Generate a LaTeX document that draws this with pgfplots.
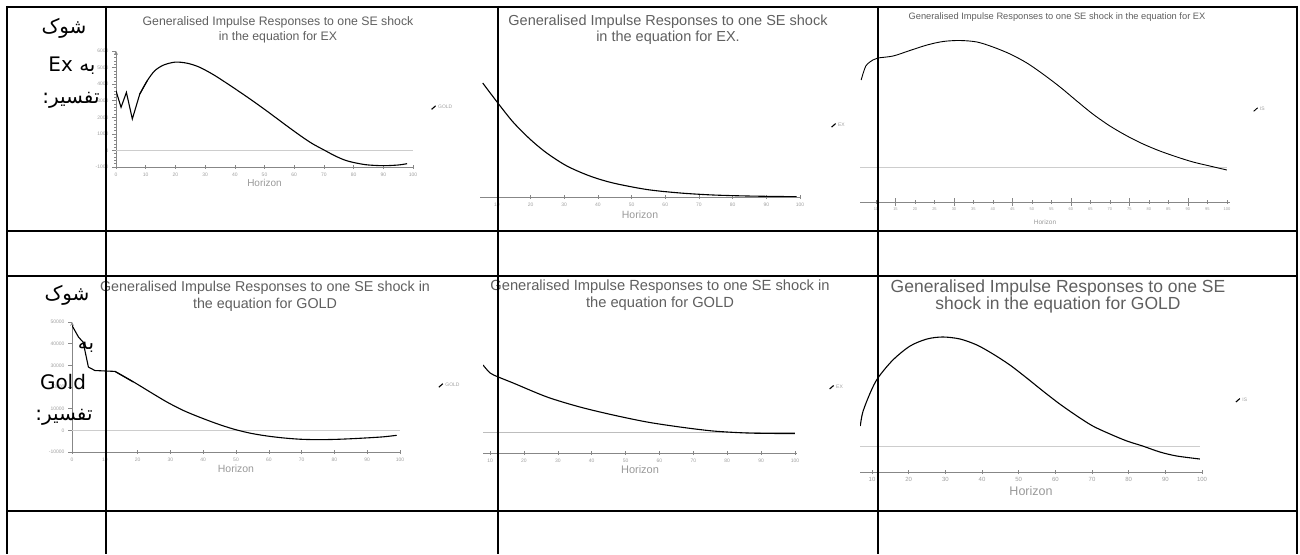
\documentclass[border=0pt]{standalone}
\usepackage{pgfplots}
\pgfplotsset{compat=1.18}
\usepackage{fontspec}
\setmainfont{Liberation Sans}
\newfontfamily\fa[Script=Arabic]{DejaVu Sans}
\TeXXeTstate=1
\definecolor{irf}{RGB}{40,40,95}
\definecolor{axc}{RGB}{135,135,135}
\definecolor{tl}{RGB}{95,95,95}
\definecolor{zl}{RGB}{205,205,205}
\pgfplotsset{irf/.style={
  scale only axis, anchor=south west,
  axis x line=bottom,
  axis line style={axc,-,line width=0.7pt},
  tick style={axc,line width=0.5pt},
  xtick align=center, major tick length=4pt,
  tick label style={text=gray!75,font=\fontsize{5}{6}\selectfont},
  /pgf/number format/assume math mode=true,
  /pgf/number format/fixed, /pgf/number format/1000 sep={},
  scaled ticks=false,
  xlabel={Horizon}, xlabel style={text=gray!80},
  legend style={draw=none,fill=none,text=gray!75,font=\fontsize{5}{6}\selectfont,anchor=west},
  legend image code/.code={\draw[##1] (0pt,-1.5pt) -- (4pt,2pt);},
}}
\begin{document}
\begin{tikzpicture}[x=1pt,y=1pt]
\path[use as bounding box] (0,0) rectangle (1300,554);

% ---------- chart 1
\begin{axis}[irf, at={(116pt,387pt)}, width=297pt, height=116pt,
  xmin=0, xmax=100, ymin=-1000, ymax=6000,
  axis y line=left, ytick={-1000,0,...,6000}, minor y tick num=4,
  ytick align=outside, minor tick length=2pt,
  xtick={0,10,...,100},
  xlabel style={font=\fontsize{10}{12}\selectfont, yshift=4pt},
  legend style={at={(1.05,0.51)}}]
\addplot[zl, line width=0.6pt, forget plot] coordinates {(0,0)(100,0)};
\addplot[irf, line width=1.1pt, forget plot] coordinates {(0,3600)(1.7,2600)(3.5,3500)(5.5,1900)(8,3400)(10.5,4200)};
\addplot[irf, line width=1.1pt, smooth] coordinates {(8,3400)(10.5,4200)(13,4800)(16,5150)(20,5330)(24,5260)(28,5030)(33,4550)(39,3850)(45,3120)(51,2350)(57,1550)(62,900)(66,420)(70,30)(74,-350)(78,-640)(84,-860)(90,-920)(95,-880)(98,-800)};
\addlegendentry{GOLD}
\end{axis}
\node[font=\fontsize{12.3}{15}\selectfont, text=tl, align=center] at (278pt,524pt) {Generalised Impulse Responses to one SE shock\\in the equation for EX};

% ---------- chart 2
\begin{axis}[irf, at={(480pt,357pt)}, width=320pt, height=140pt,
  axis y line=none,
  xmin=5, xmax=100, ymin=0, ymax=1.4, ytick=\empty,
  xtick={10,20,...,100},
  xlabel style={font=\fontsize{10.5}{12}\selectfont, yshift=2pt},
  legend style={at={(1.087,0.51)}}]
\addplot[irf, line width=1.1pt, smooth] coordinates {(5.8,1.14)(10.3,0.94)(14.8,0.75)(19.8,0.58)(24.8,0.44)(30.8,0.31)(37.6,0.21)(44.5,0.14)(54.5,0.075)(64.4,0.04)(74.2,0.02)(84.3,0.01)(94,0.005)(99,0.003)};
\addlegendentry{EX}
\end{axis}
\node[font=\fontsize{14.5}{16}\selectfont, text=tl, align=center] at (668pt,524pt) {Generalised Impulse Responses to one SE shock\\in the equation for EX.};

% ---------- chart 3
\begin{axis}[irf, at={(860pt,352pt)}, width=370pt, height=192pt,
  axis y line=none,
  xmin=5.9, xmax=100.8, ymin=-0.35, ymax=1.57, ytick=\empty,
  xtick={10,15,...,100},
  extra x ticks={15,30,45,60,75,90}, extra x tick labels={},
  extra x tick style={major tick length=8pt},
  tick label style={font=\fontsize{4}{5}\selectfont},
  xlabel style={font=\fontsize{6.5}{8}\selectfont, yshift=3pt},
  legend style={at={(1.054,0.48)}}]
\addplot[zl, line width=0.8pt, forget plot] coordinates {(5.9,0)(100,0)};
\addplot[irf, line width=0.9pt, smooth] coordinates {(6.2,0.87)(7.4,1.01)(9.2,1.07)(10.5,1.09)(14.4,1.11)(18.7,1.165)(23.1,1.22)(27.2,1.255)(31.5,1.265)(35.9,1.25)(40,1.20)(44.4,1.13)(48.7,1.04)(52.8,0.93)(57.2,0.80)(61.5,0.66)(65.6,0.53)(70,0.41)(74.4,0.31)(78.5,0.23)(82.8,0.16)(87.2,0.10)(91.3,0.05)(95.6,0.01)(100,-0.03)};
\addlegendentry{IS}
\end{axis}
\node[font=\fontsize{9.3}{11}\selectfont, text=tl] at (1057pt,537pt) {Generalised Impulse Responses to one SE shock in the equation for EX};

% ---------- chart 4
\begin{axis}[irf, at={(72pt,102pt)}, width=328pt, height=130pt,
  xmin=0, xmax=100, ymin=-10000, ymax=50000,
  axis y line=left, ytick={-10000,0,...,50000}, ytick align=outside,
  xtick={0,10,...,100},
  xlabel style={font=\fontsize{10.5}{12}\selectfont, yshift=3pt},
  legend style={at={(1.107,0.51)}}]
\addplot[zl, line width=0.6pt, forget plot] coordinates {(0,0)(100,0)};
\addplot[irf, line width=1.1pt, forget plot] coordinates {(0,48400)(2,43000)(3.4,40700)(5,29200)(7,27600)(13.1,27200)(18.7,22300)};
\addplot[irf, line width=1.1pt, smooth] coordinates {(13.1,27200)(18.7,22400)(23.8,17700)(28.9,13100)(33.9,9200)(39,6000)(44.1,3100)(49.2,600)(54.3,-1300)(59.4,-2600)(64.4,-3500)(69.5,-4100)(74.6,-4300)(79.7,-4200)(84.8,-3900)(89.8,-3500)(94.9,-3000)(99,-2300)};
\addlegendentry{GOLD}
\end{axis}
\node[font=\fontsize{14.3}{17}\selectfont, text=tl, align=center] at (265pt,258pt) {Generalised Impulse Responses to one SE shock in\\the equation for GOLD};

% ---------- chart 5
\begin{axis}[irf, at={(483pt,101pt)}, width=314pt, height=113pt,
  axis y line=none,
  xmin=7.9, xmax=100.6, ymin=-0.21, ymax=0.92, ytick=\empty,
  xtick={10,20,...,100},
  xlabel style={font=\fontsize{11}{12}\selectfont, yshift=3pt},
  legend style={at={(1.092,0.58)}}]
\addplot[zl!80!gray, line width=0.6pt, forget plot] coordinates {(7.9,0)(100,0)};
\addplot[irf, line width=1.1pt, smooth] coordinates {(7.9,0.67)(10,0.59)(12.4,0.55)(16.8,0.49)(26.8,0.35)(36.5,0.25)(46.3,0.17)(56.3,0.10)(66,0.05)(75.8,0.01)(85.8,-0.01)(95.5,-0.015)(100,-0.015)};
\addlegendentry{EX}
\end{axis}
\node[font=\fontsize{14.7}{17}\selectfont, text=tl, align=center] at (660pt,259pt) {Generalised Impulse Responses to one SE shock in\\the equation for GOLD};

% ---------- chart 6
\begin{axis}[irf, at={(860pt,82pt)}, width=342pt, height=152pt,
  axis y line=none,
  xmin=6.73, xmax=100, ymin=-0.26, ymax=1.26, ytick=\empty,
  xtick={10,20,...,100},
  tick label style={font=\fontsize{6}{7}\selectfont},
  xlabel style={font=\fontsize{12.5}{14}\selectfont, yshift=2pt},
  legend style={at={(1.088,0.47)}}]
\addplot[zl, line width=0.6pt, forget plot] coordinates {(6.73,0)(99.4,0)};
\addplot[irf, line width=1.1pt, smooth] coordinates {(6.8,0.20)(7.5,0.34)(9.5,0.53)(11.6,0.68)(15.7,0.86)(20.4,1.0)(25,1.07)(29.3,1.09)(34,1.07)(38.6,1.01)(43,0.92)(47.6,0.81)(52.2,0.68)(56.6,0.55)(61.2,0.42)(65.9,0.30)(70.2,0.20)(74.9,0.12)(79.5,0.05)(83.8,0.0)(88.5,-0.06)(93.1,-0.10)(99.4,-0.13)};
\addlegendentry{IS}
\end{axis}
\node[font=\fontsize{17.5}{17}\selectfont, text=tl, align=center] at (1058pt,258pt) {Generalised Impulse Responses to one SE\\shock in the equation for GOLD};

% ---------- Persian labels
\node[font=\fa\fontsize{20}{22}\selectfont] at (64pt,526pt) {\beginR شوک\endR};
\node[font=\fa\fontsize{20}{22}\selectfont] at (72pt,488pt) {\beginR به Ex\endR};
\node[font=\fa\fontsize{20}{22}\selectfont] at (71pt,454pt) {\beginR تفسیر:\endR};
\node[font=\fa\fontsize{20}{22}\selectfont] at (67pt,259pt) {\beginR شوک\endR};
\node[font=\fa\fontsize{20}{22}\selectfont] at (86pt,207pt) {\beginR به\endR};
\node[font=\fa\fontsize{20}{22}\selectfont] at (63pt,172pt) {Gold};
\node[font=\fa\fontsize{20}{22}\selectfont] at (64pt,137pt) {\beginR تفسیر:\endR};

% ---------- table grid
\begin{scope}[line width=2pt, black]
\foreach \x in {7,106,498,878,1297} \draw (\x pt,548pt) -- (\x pt,0pt);
\foreach \y in {547,323,278,43} \draw (6pt,\y pt) -- (1298pt,\y pt);
\end{scope}
\end{tikzpicture}
\end{document}
